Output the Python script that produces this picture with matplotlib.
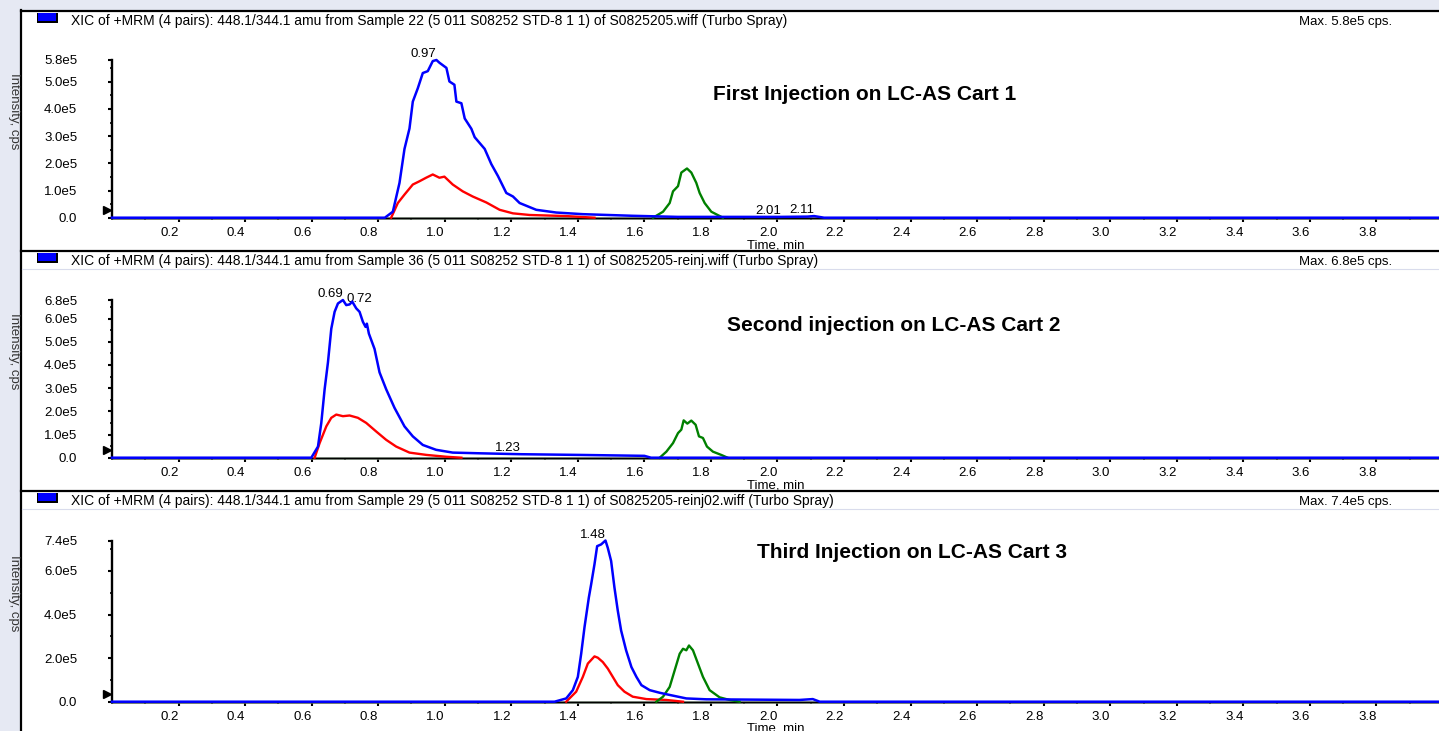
import matplotlib
matplotlib.use('Agg')
import matplotlib.pyplot as plt
from matplotlib.lines import Line2D
from matplotlib.patches import Rectangle
from matplotlib.ticker import AutoMinorLocator

plt.rcParams['font.family'] = ['Liberation Sans', 'DejaVu Sans']

W, H = 1439, 731

# time in min, intensity in units of 1e5 cps
p1_blue_t = [0.0, 0.82, 0.844, 0.864, 0.879, 0.894, 0.904, 0.919, 0.934, 0.949, 0.964, 0.975,
             0.984, 1.005, 1.014, 1.029, 1.035, 1.05, 1.06, 1.08, 1.09, 1.12, 1.14, 1.16,
             1.185, 1.205, 1.225, 1.275, 1.335, 1.415, 1.565, 1.7, 2.0, 2.01, 2.09, 2.11, 2.14, 3.99]
p1_blue_i = [0, 0, 0.22, 1.28, 2.53, 3.28, 4.27, 4.76, 5.32, 5.39, 5.76, 5.8,
             5.70, 5.51, 5.01, 4.89, 4.27, 4.21, 3.65, 3.27, 2.96, 2.53, 1.97, 1.53,
             0.91, 0.78, 0.54, 0.29, 0.19, 0.13, 0.07, 0.03, 0.03, 0.03, 0.04, 0.06, 0, 0]
p1_red_t = [0.839, 0.859, 0.879, 0.904, 0.924, 0.944, 0.964, 0.984, 0.999, 1.024, 1.054,
            1.084, 1.125, 1.165, 1.205, 1.255, 1.365, 1.45]
p1_red_i = [0, 0.54, 0.85, 1.22, 1.34, 1.47, 1.59, 1.47, 1.51, 1.22, 0.97,
            0.78, 0.56, 0.29, 0.16, 0.10, 0.06, 0]
p1_green_t = [1.626, 1.656, 1.676, 1.686, 1.701, 1.711, 1.728, 1.741, 1.756, 1.766, 1.781, 1.801, 1.836]
p1_green_i = [0, 0.22, 0.54, 0.97, 1.16, 1.66, 1.81, 1.66, 1.28, 0.91, 0.54, 0.22, 0]

p2_blue_t = [0.0, 0.599, 0.619, 0.629, 0.639, 0.649, 0.659, 0.669, 0.679, 0.694, 0.704, 0.714,
             0.722, 0.734, 0.744, 0.754, 0.762, 0.766, 0.772, 0.789, 0.804, 0.824, 0.849,
             0.879, 0.904, 0.934, 0.974, 1.024, 1.105, 1.23, 1.405, 1.6, 1.62, 3.99]
p2_blue_i = [0, 0, 0.48, 1.50, 2.95, 4.11, 5.56, 6.29, 6.65, 6.8, 6.58, 6.61,
             6.73, 6.44, 6.29, 5.86, 5.64, 5.78, 5.35, 4.69, 3.68, 2.95, 2.15,
             1.35, 0.92, 0.55, 0.34, 0.22, 0.19, 0.15, 0.12, 0.08, 0, 0]
p2_red_t = [0.609, 0.624, 0.644, 0.659, 0.674, 0.694, 0.714, 0.739, 0.764, 0.794, 0.824,
            0.854, 0.894, 0.945, 1.005, 1.05]
p2_red_i = [0, 0.63, 1.35, 1.72, 1.86, 1.79, 1.82, 1.72, 1.50, 1.13, 0.77,
            0.48, 0.22, 0.12, 0.04, 0]
p2_green_t = [1.646, 1.666, 1.686, 1.701, 1.711, 1.718, 1.729, 1.741, 1.754, 1.764, 1.776,
              1.788, 1.806, 1.831, 1.85]
p2_green_i = [0, 0.26, 0.63, 1.06, 1.21, 1.61, 1.47, 1.60, 1.42, 0.92, 0.85,
              0.48, 0.26, 0.12, 0]

p3_blue_t = [0.0, 1.33, 1.365, 1.385, 1.4, 1.41, 1.42, 1.433, 1.44, 1.45, 1.458, 1.47, 1.483,
             1.49, 1.5, 1.51, 1.52, 1.53, 1.545, 1.561, 1.576, 1.591, 1.616, 1.646, 1.676,
             1.726, 1.786, 2.066, 2.106, 2.127, 3.99]
p3_blue_i = [0, 0, 0.15, 0.53, 1.14, 2.20, 3.42, 4.78, 5.39, 6.31, 7.14, 7.22, 7.4,
             7.06, 6.46, 5.24, 4.18, 3.27, 2.36, 1.59, 1.14, 0.76, 0.53, 0.41, 0.31,
             0.15, 0.11, 0.08, 0.12, 0, 0]
p3_red_t = [1.365, 1.395, 1.415, 1.43, 1.45, 1.46, 1.475, 1.49, 1.505, 1.52, 1.54, 1.565,
            1.606, 1.666, 1.716]
p3_red_i = [0, 0.46, 1.14, 1.75, 2.08, 2.02, 1.82, 1.52, 1.14, 0.76, 0.46, 0.23,
            0.12, 0.08, 0]
p3_green_t = [1.636, 1.656, 1.676, 1.691, 1.706, 1.716, 1.726, 1.734, 1.746, 1.761, 1.776,
              1.796, 1.826, 1.856, 1.886]
p3_green_i = [0, 0.23, 0.68, 1.44, 2.20, 2.43, 2.36, 2.58, 2.36, 1.75, 1.14,
              0.53, 0.20, 0.08, 0]

gray_t = [0.0, 3.99]
gray_i = [0, 0]

headers = [
    'XIC of +MRM (4 pairs): 448.1/344.1 amu from Sample 22 (5 011 S08252 STD-8 1 1) of S0825205.wiff (Turbo Spray)',
    'XIC of +MRM (4 pairs): 448.1/344.1 amu from Sample 36 (5 011 S08252 STD-8 1 1) of S0825205-reinj.wiff (Turbo Spray)',
    'XIC of +MRM (4 pairs): 448.1/344.1 amu from Sample 29 (5 011 S08252 STD-8 1 1) of S0825205-reinj02.wiff (Turbo Spray)',
]
max_labels = ['Max. 5.8e5 cps.', 'Max. 6.8e5 cps.', 'Max. 7.4e5 cps.']
titles = ['First Injection on LC-AS Cart 1', 'Second injection on LC-AS Cart 2',
          'Third Injection on LC-AS Cart 3']
y_max = [5.8, 6.8, 7.4]
y_ticks = [[0, 1, 2, 3, 4, 5, 5.8], [0, 1, 2, 3, 4, 5, 6, 6.8], [0, 2, 4, 6, 7.4]]
y_tick_labels = [['0.0', '1.0e5', '2.0e5', '3.0e5', '4.0e5', '5.0e5', '5.8e5'],
                 ['0.0', '1.0e5', '2.0e5', '3.0e5', '4.0e5', '5.0e5', '6.0e5', '6.8e5'],
                 ['0.0', '2.0e5', '4.0e5', '6.0e5', '7.4e5']]
x_ticks = [0.2, 0.4, 0.6, 0.8, 1.0, 1.2, 1.4, 1.6, 1.8, 2.0, 2.2, 2.4, 2.6, 2.8, 3.0,
           3.2, 3.4, 3.6, 3.8]
x_tick_labels = ['0.2', '0.4', '0.6', '0.8', '1.0', '1.2', '1.4', '1.6', '1.8', '2.0', '2.2',
                 '2.4', '2.6', '2.8', '3.0', '3.2', '3.4', '3.6', '3.8']
peak_labels = [
    [(0.975, 5.8, '0.97', 'right'), (2.01, 0.03, '2.01', 'right'), (2.11, 0.06, '2.11', 'right')],
    [(0.694, 6.8, '0.69', 'right'), (0.706, 6.6, '0.72', 'left'), (1.23, 0.15, '1.23', 'right')],
    [(1.483, 7.4, '1.48', 'right')],
]

# pixel layout of the three panels: (axis top, axis bottom, header y, separator y)
panel_px = [(60, 217.7, 21.5, None), (300, 457.7, 261.5, 250.7), (540.5, 701.7, 501.5, 490.7)]
title_pos = [(0.567, 0.78), (0.589, 0.84), (0.603, 0.925)]
xlabel_pad = [0, 0, -1]

FS = 9.5


def fx(x):
    return x / W


def fy(y):
    return 1 - y / H


def main():
    fig = plt.figure(figsize=(W / 100, H / 100), dpi=100)
    fig.patch.set_facecolor('#E6E9F3')
    fig.add_artist(Rectangle((fx(21), 0), 1 - fx(21), fy(10), facecolor='white',
                             edgecolor='none', zorder=0))
    fig.add_artist(Line2D([fx(21), fx(21)], [0, fy(10)], color='black', lw=1.6))
    fig.add_artist(Line2D([fx(20.5), 1], [fy(11), fy(11)], color='black', lw=1.6))

    series = [
        (p1_blue_t, p1_blue_i, p1_red_t, p1_red_i, p1_green_t, p1_green_i),
        (p2_blue_t, p2_blue_i, p2_red_t, p2_red_i, p2_green_t, p2_green_i),
        (p3_blue_t, p3_blue_i, p3_red_t, p3_red_i, p3_green_t, p3_green_i),
    ]

    for k, (top, bot, hy, sep) in enumerate(panel_px):
        if sep is not None:
            fig.add_artist(Line2D([fx(21), 1], [fy(sep), fy(sep)], color='black', lw=1.6))
            fig.add_artist(Line2D([fx(22), 1], [fy(sep + 18.5), fy(sep + 18.5)],
                                  color='#D9DCEC', lw=0.8))
        # header icon
        fig.add_artist(Rectangle((fx(37.3), fy(hy + 1.8)), fx(21), 10.5 / H,
                                 facecolor='black', edgecolor='none'))
        fig.add_artist(Rectangle((fx(37.6), fy(hy - 0.2)), fx(18.5), 8.2 / H,
                                 facecolor='#0000FF', edgecolor='none'))
        fig.text(fx(71), fy(hy), headers[k], fontsize=10, va='center', ha='left')
        fig.text(fx(1392), fy(hy), max_labels[k], fontsize=FS, va='center', ha='right')
        fig.text(fx(14), fy((top + bot) / 2 - 28), 'Intensity, cps', rotation=-90,
                 fontsize=FS, va='center', ha='center', color='#333333')

        ax = fig.add_axes([fx(112), fy(bot), 1 - fx(112), (bot - top) / H])
        ax.set_facecolor('none')
        bt, bi, rt, ri, gt, gi = series[k]
        ax.plot(gray_t, gray_i, color='#6F7F6F', lw=1.8, clip_on=False, zorder=2)
        ax.plot(rt, ri, color='#FF0000', lw=1.7, clip_on=False, zorder=3)
        ax.plot(gt, gi, color='#008000', lw=1.7, clip_on=False, zorder=3)
        ax.plot(bt, bi, color='#0000FF', lw=1.8, clip_on=False, zorder=4)

        for t, v, s, ha in peak_labels[k]:
            ax.text(t, v, s, fontsize=FS, ha=ha, va='bottom', clip_on=False)

        tx, ty = title_pos[k]
        ax.text(tx, ty, titles[k], transform=ax.transAxes, fontsize=15, fontweight='bold',
                ha='center', va='center')

        ax.plot([-0.0035], [0.05], marker='>', color='black', markersize=6,
                transform=ax.transAxes, clip_on=False)

        ax.set_xlim(0.0, 3.988)
        ax.set_ylim(0, y_max[k])
        ax.set_xticks(x_ticks)
        ax.set_xticklabels(x_tick_labels)
        for lab in ax.get_xticklabels():
            lab.set_ha('right')
        ax.set_yticks(y_ticks[k])
        ax.set_yticklabels(y_tick_labels[k])
        ax.xaxis.set_minor_locator(AutoMinorLocator(2))
        ax.yaxis.set_minor_locator(AutoMinorLocator(2))
        ax.tick_params(axis='x', which='major', length=3, width=1.5, pad=4, labelsize=FS)
        ax.tick_params(axis='x', which='minor', length=1.5, width=1.2)
        ax.tick_params(axis='y', which='major', length=3, width=1.5, pad=22, labelsize=FS)
        ax.tick_params(axis='y', which='minor', length=1.5, width=1.2)
        for lab in ax.get_yticklabels():
            lab.set_ha('right')
        ax.set_xlabel('Time, min', fontsize=FS, labelpad=xlabel_pad[k])
        for side in ('top', 'right'):
            ax.spines[side].set_visible(False)
        ax.spines['left'].set_linewidth(1.7)
        ax.spines['bottom'].set_linewidth(1.0)

    fig.savefig('out.png', dpi=100, facecolor=fig.get_facecolor())
    plt.close(fig)


if __name__ == '__main__':
    main()
